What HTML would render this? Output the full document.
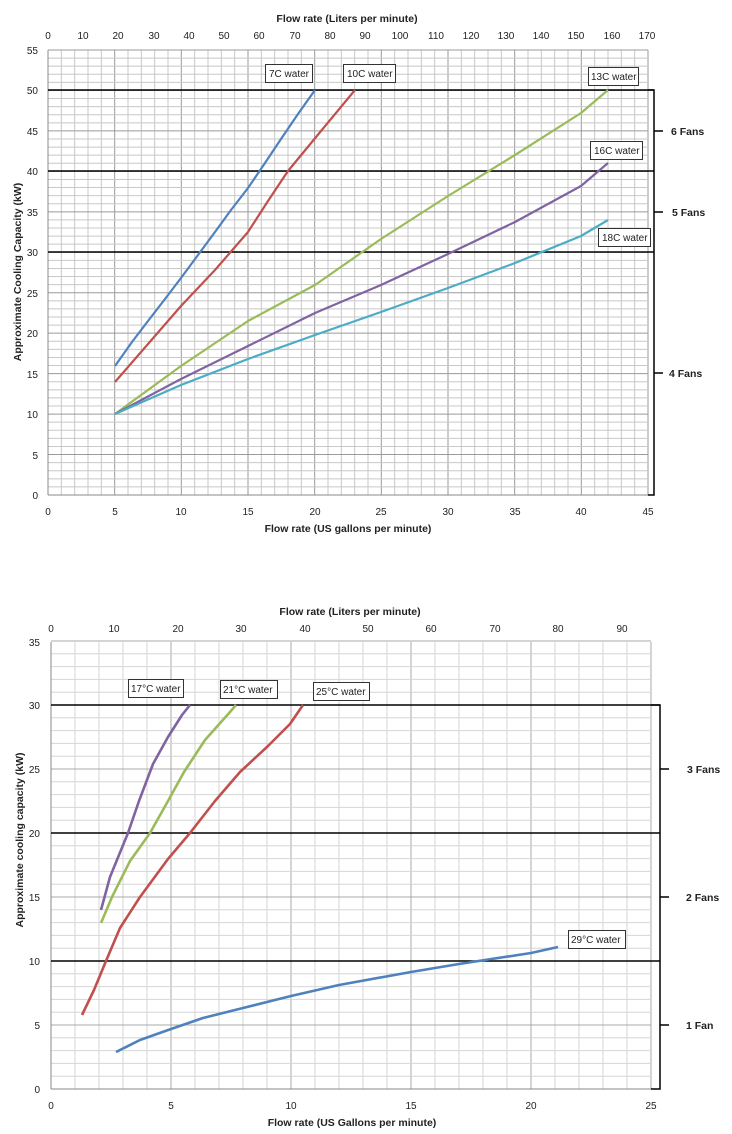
<!DOCTYPE html>
<html><head><meta charset="utf-8"><style>
html,body{margin:0;padding:0;background:#fff}
svg{display:block}
text{font-family:"Liberation Sans",sans-serif;fill:#222}
.t{font-size:10px}
.b{font-size:10.5px;font-weight:bold}
.l{font-size:10px}
</style></head><body>
<svg width="732" height="1134" viewBox="0 0 732 1134" xmlns="http://www.w3.org/2000/svg">
<g id="g1"></g>
<g id="g2"></g>
<g stroke="#000" stroke-width="1.5" fill="none">
<line x1="48" y1="90" x2="654" y2="90"/>
<line x1="48" y1="171" x2="654" y2="171"/>
<line x1="48" y1="252" x2="654" y2="252"/>
<path d="M648 90 H654 V495 H648"/>
<line x1="654" y1="131" x2="663" y2="131"/>
<line x1="654" y1="212" x2="663" y2="212"/>
<line x1="654" y1="373" x2="663" y2="373"/>
<line x1="51" y1="705" x2="660" y2="705"/>
<line x1="51" y1="833" x2="660" y2="833"/>
<line x1="51" y1="961" x2="660" y2="961"/>
<path d="M651 705 H660 V1089 H651"/>
<line x1="660" y1="769" x2="669" y2="769"/>
<line x1="660" y1="897" x2="669" y2="897"/>
<line x1="660" y1="1025" x2="669" y2="1025"/>
</g>
<g fill="none" stroke-width="2.2" stroke-linejoin="round">
<polyline stroke="#4f81bd" points="115,366 132,342 148,321 165,299 181,278 198,255 215,232 231,210 248,188 265,163 281,139 298,114 315,90"/>
<polyline stroke="#c0504d" points="115,382 148,344 181,306 215,270 248,232 268,201 288,171 321,131 355,90"/>
<polyline stroke="#9bbb59" points="115,414 181,366 248,321 315,285 381,239 448,196 515,155 581,113 608,90"/>
<polyline stroke="#8064a2" points="115,414 181,379 248,346 315,313 381,285 448,254 515,222 581,186 608,163"/>
<polyline stroke="#4bacc6" points="115,414 181,385 248,359 315,335 381,312 448,288 515,263 581,236 608,220"/>
</g>
<g fill="none" stroke-width="2.6" stroke-linejoin="round">
<polyline stroke="#8064a2" points="101,910 110,877 128,833 139,801 153,764 168,737 182,715 190,705"/>
<polyline stroke="#9bbb59" points="101,923 112,897 130,861 150,833 168,801 184,772 205,740 230,712 236,705"/>
<polyline stroke="#c0504d" points="82,1015 94,990 106,961 120,928 140,897 168,859 190,833 215,801 240,772 268,746 290,724 303,705"/>
<polyline stroke="#4f81bd" points="116,1052 140,1040 171,1029 203,1018 243,1008 291,996 339,985 411,972 459,964 531,953 558,947"/>
</g>
<g class="t" text-anchor="end">
<text x="38" y="54">55</text><text x="38" y="94">50</text><text x="38" y="135">45</text><text x="38" y="175">40</text><text x="38" y="216">35</text><text x="38" y="256">30</text><text x="38" y="297">25</text><text x="38" y="337">20</text><text x="38" y="378">15</text><text x="38" y="418">10</text><text x="38" y="459">5</text><text x="38" y="499">0</text>
<text x="40" y="646">35</text><text x="40" y="709">30</text><text x="40" y="773">25</text><text x="40" y="837">20</text><text x="40" y="901">15</text><text x="40" y="965">10</text><text x="40" y="1029">5</text><text x="40" y="1093">0</text>
</g>
<g class="t" text-anchor="middle">
<text x="48" y="515">0</text><text x="115" y="515">5</text><text x="181" y="515">10</text><text x="248" y="515">15</text><text x="315" y="515">20</text><text x="381" y="515">25</text><text x="448" y="515">30</text><text x="515" y="515">35</text><text x="581" y="515">40</text><text x="648" y="515">45</text>
<text x="48" y="39">0</text><text x="83" y="39">10</text><text x="118" y="39">20</text><text x="154" y="39">30</text><text x="189" y="39">40</text><text x="224" y="39">50</text><text x="259" y="39">60</text><text x="295" y="39">70</text><text x="330" y="39">80</text><text x="365" y="39">90</text><text x="400" y="39">100</text><text x="436" y="39">110</text><text x="471" y="39">120</text><text x="506" y="39">130</text><text x="541" y="39">140</text><text x="576" y="39">150</text><text x="612" y="39">160</text><text x="647" y="39">170</text>
<text x="51" y="1109">0</text><text x="171" y="1109">5</text><text x="291" y="1109">10</text><text x="411" y="1109">15</text><text x="531" y="1109">20</text><text x="651" y="1109">25</text>
<text x="51" y="632">0</text><text x="114" y="632">10</text><text x="178" y="632">20</text><text x="241" y="632">30</text><text x="305" y="632">40</text><text x="368" y="632">50</text><text x="431" y="632">60</text><text x="495" y="632">70</text><text x="558" y="632">80</text><text x="622" y="632">90</text>
</g>
<g class="b" text-anchor="middle">
<text x="347" y="22">Flow rate (Liters per minute)</text>
<text x="348" y="532">Flow rate (US gallons per minute)</text>
<text x="350" y="615">Flow rate (Liters per minute)</text>
<text x="352" y="1126">Flow rate (US Gallons per minute)</text>
<text transform="translate(21,272) rotate(-90)">Approximate Cooling Capacity (kW)</text>
<text transform="translate(23,840) rotate(-90)">Approximate cooling capacity (kW)</text>
</g>
<g class="b">
<text x="671" y="135">6 Fans</text><text x="672" y="216">5 Fans</text><text x="669" y="377">4 Fans</text>
<text x="687" y="773">3 Fans</text><text x="686" y="901">2 Fans</text><text x="686" y="1029">1 Fan</text>
</g>
<g fill="#fff" stroke="#333" stroke-width="1">
<rect x="265.5" y="64.5" width="47" height="18"/>
<rect x="343.5" y="64.5" width="52" height="18"/>
<rect x="588.5" y="67.5" width="50" height="18"/>
<rect x="590.5" y="141.5" width="52" height="18"/>
<rect x="598.5" y="228.5" width="52" height="18"/>
<rect x="128.5" y="679.5" width="55" height="18"/>
<rect x="220.5" y="680.5" width="57" height="18"/>
<rect x="313.5" y="682.5" width="56" height="18"/>
<rect x="568.5" y="930.5" width="57" height="18"/>
</g>
<g class="l">
<text x="269" y="77">7C water</text><text x="347" y="77">10C water</text><text x="591" y="80">13C water</text><text x="594" y="154">16C water</text><text x="602" y="241">18C water</text>
<text x="131" y="692">17°C water</text><text x="223" y="693">21°C water</text><text x="316" y="695">25°C water</text><text x="571" y="943">29°C water</text>
</g>
<script>
(function(){
var ns="http://www.w3.org/2000/svg";
function ln(g,x1,y1,x2,y2,c,w){var l=document.createElementNS(ns,"line");l.setAttribute("x1",x1);l.setAttribute("y1",y1);l.setAttribute("x2",x2);l.setAttribute("y2",y2);l.setAttribute("stroke",c);l.setAttribute("stroke-width",w);g.appendChild(l);}
var g1=document.getElementById("g1");
for(var i=0;i<=45;i++){var x=48+i*600/45;ln(g1,x,50,x,495,i%5?"#c8c8c8":"#9a9a9a",1);}
for(var j=0;j<=55;j++){var y=495-j*445/55;ln(g1,48,y,648,y,j%5?"#c8c8c8":"#9a9a9a",1);}
ln(g1,48,50,48,495,"#888",1);ln(g1,48,495,648,495,"#888",1);
var g2=document.getElementById("g2");
for(var i=0;i<=25;i++){var x=51+i*24;ln(g2,x,642,x,1089,i%5?"#d6d6d6":"#a8a8a8",1);}
for(var j=0;j<=35;j++){var y=1089-j*12.8;ln(g2,51,y,651,y,j%5?"#d6d6d6":"#a8a8a8",1);}
ln(g2,51,642,51,1089,"#888",1);ln(g2,51,1089,651,1089,"#888",1);
})();
</script>
</svg>
</body></html>
